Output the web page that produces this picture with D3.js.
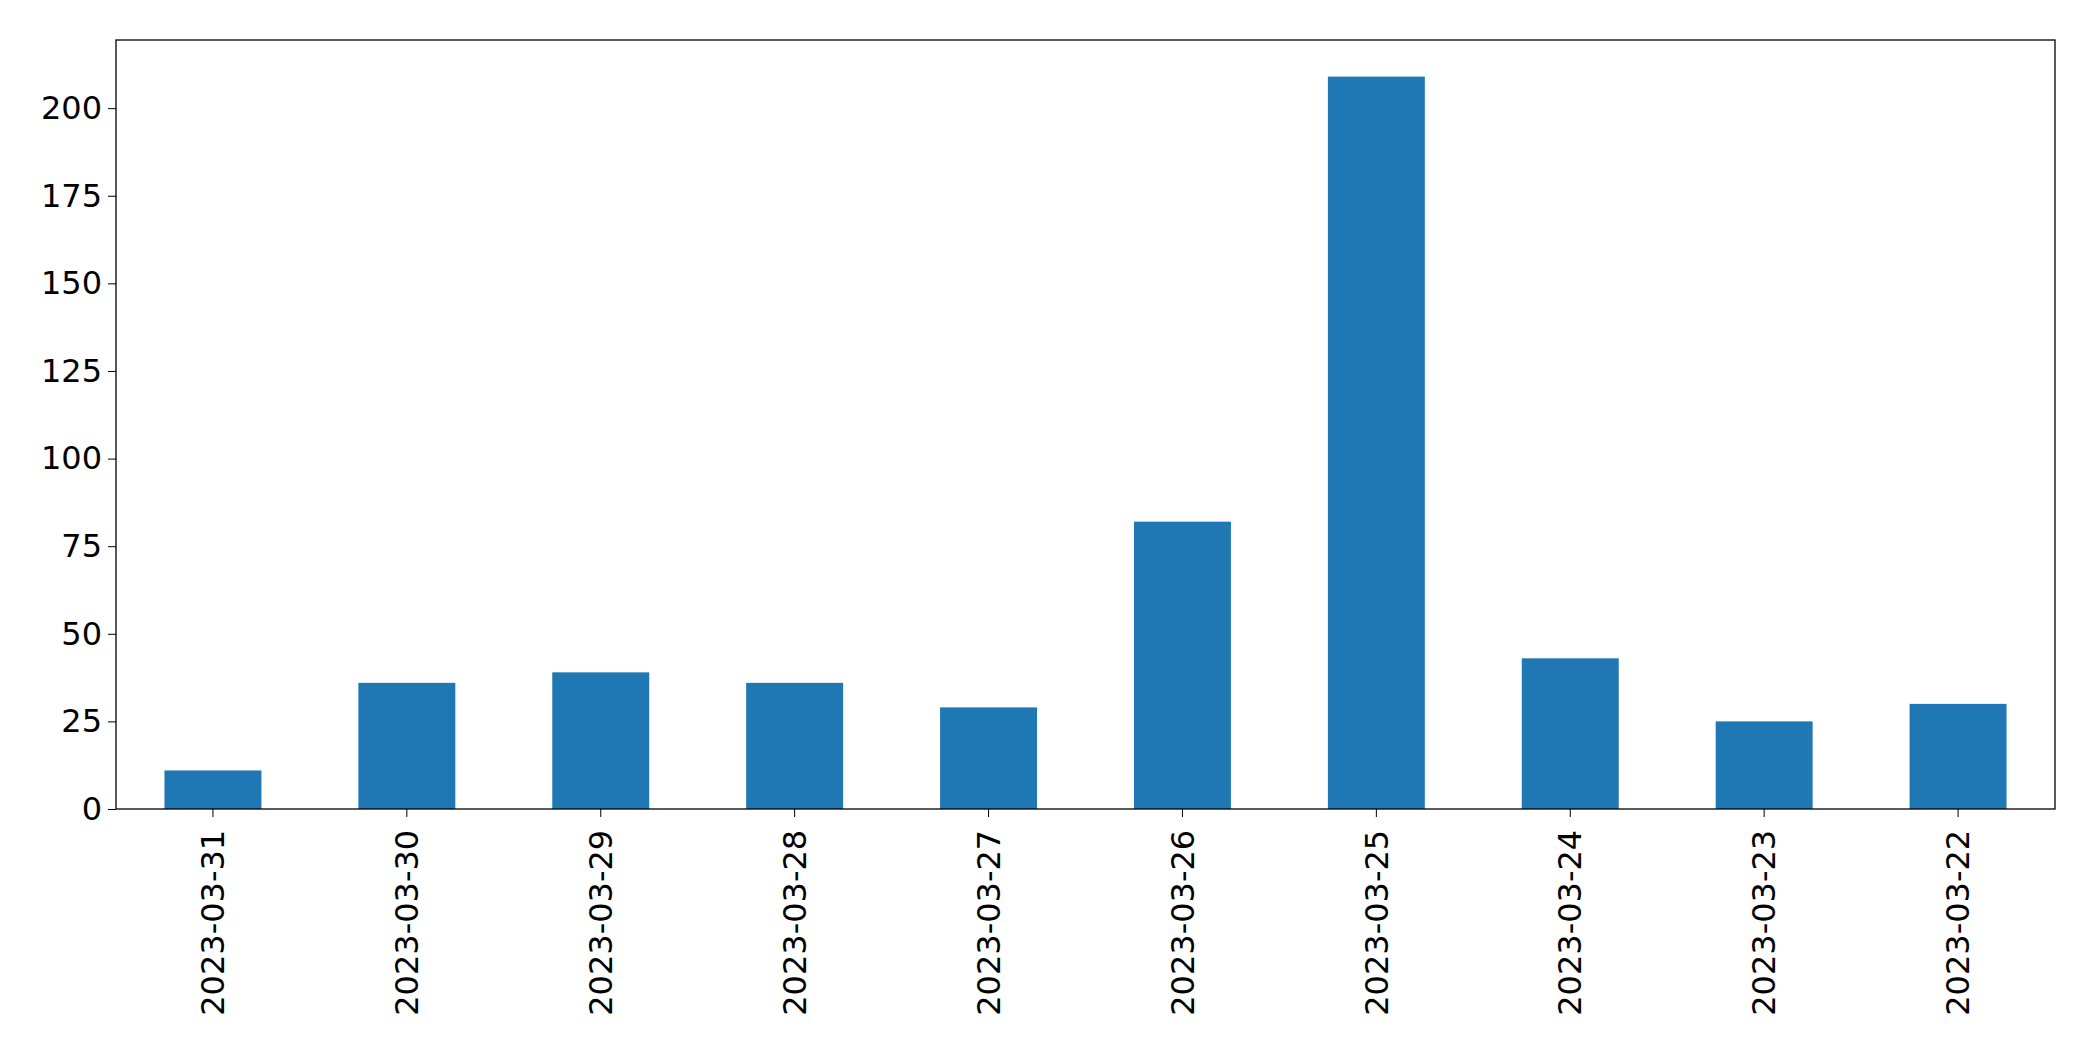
<!DOCTYPE html>
<html><head><meta charset="utf-8">
<script src="https://cdn.jsdelivr.net/npm/d3@7"></script>
<style>body{margin:0;background:#fff}text{font-family:"DejaVu Sans",sans-serif}</style>
</head><body><svg id="c" width="2093" height="1061"></svg>
<script>
const categories=["2023-03-31","2023-03-30","2023-03-29","2023-03-28","2023-03-27","2023-03-26","2023-03-25","2023-03-24","2023-03-23","2023-03-22"];
const values=[11,36,39,36,29,82,209,43,25,30];
const yTicks=[0,25,50,75,100,125,150,175,200];
const m={l:116,r:2055,t:40,b:809};
const svg=d3.select("#c");
const x=d3.scaleBand().domain(categories).range([m.l,m.r]).paddingInner(0.5).paddingOuter(0.25);
const y=d3.scaleLinear().domain([0,209*1.05]).range([m.b,m.t]);
svg.selectAll("rect.bar").data(values).join("rect").attr("class","bar")
 .attr("x",(d,i)=>x(categories[i])).attr("width",x.bandwidth())
 .attr("y",d=>y(d)).attr("height",d=>y(0)-y(d)).attr("fill","#1f77b4");
const ya=svg.append("g").attr("transform",`translate(${m.l},0)`).call(d3.axisLeft(y).tickValues(yTicks).tickSize(8).tickPadding(6));
ya.selectAll("text").attr("font-size",32).attr("fill","#000");
const xa=svg.append("g").attr("transform",`translate(0,${m.b})`).call(d3.axisBottom(x).tickSize(8).tickPadding(6));
xa.selectAll("text").attr("font-size",32).attr("fill","#000")
 .attr("transform","rotate(-90)").attr("text-anchor","end").attr("dx","-0.4em").attr("dy","0.35em").attr("x",-8).attr("y",0);
svg.selectAll(".domain").remove();
svg.append("rect").attr("x",m.l).attr("y",m.t).attr("width",m.r-m.l).attr("height",m.b-m.t).attr("fill","none").attr("stroke","#000").attr("stroke-width",1.3);
</script></body></html>
